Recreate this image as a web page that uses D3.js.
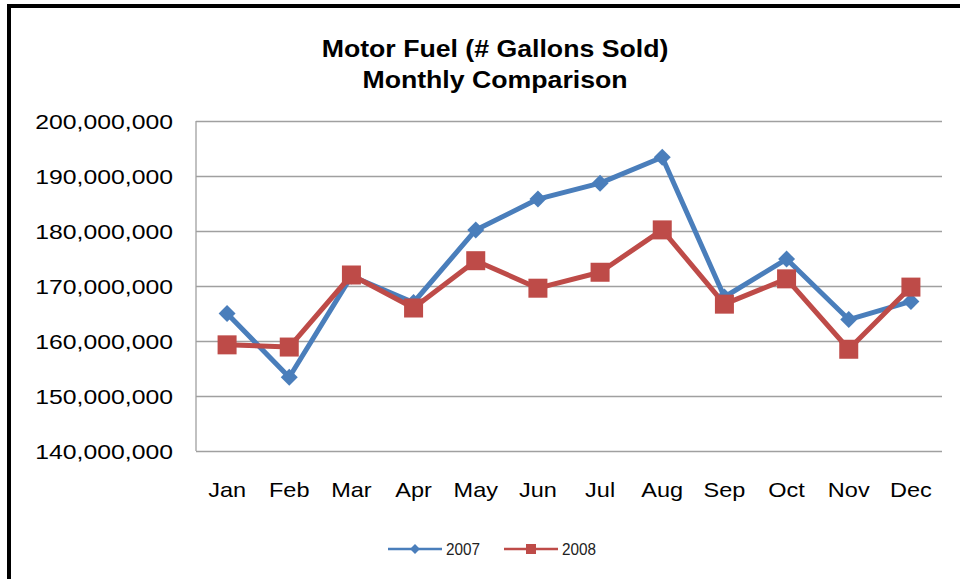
<!DOCTYPE html>
<html>
<head>
<meta charset="utf-8">
<script src="https://cdn.jsdelivr.net/npm/d3@7"></script>
<style>
  body { margin: 0; background: #fff; }
  text { font-family: Arial, "Liberation Sans", sans-serif; }
</style>
</head>
<body>
<svg id="chart" width="960" height="579"></svg>
<script>
// chart data
var months = ["Jan", "Feb", "Mar", "Apr", "May", "Jun", "Jul", "Aug", "Sep", "Oct", "Nov", "Dec"];
var sales2007 = [165.0, 153.4, 171.8, 167.0, 180.2, 185.8, 188.7, 193.4, 168.0, 174.9, 163.9, 167.2];
var sales2008 = [159.3, 158.9, 172.0, 166.0, 174.6, 169.6, 172.5, 180.2, 166.7, 171.3, 158.5, 169.8];
var yTicks = [140, 150, 160, 170, 180, 190, 200]; // millions
var seriesNames = ["2007", "2008"];
var seriesColors = ["#4a7ebb", "#be4b48"];

var svg = d3.select("#chart");
var plot = {left: 196, right: 942, top: 121, bottom: 451};

// black frame
svg.append("path")
  .attr("d", "M9,579 V6 H960")
  .attr("fill", "none")
  .attr("stroke", "#000")
  .attr("stroke-width", 4);

// helper: text that is a bit wider than plain Arial, like the original
function label(g, x, y, str, size, sx, anchor, weight, fill) {
  return g.append("text")
    .attr("transform", "translate(" + x + "," + y + ") scale(" + sx + ",1)")
    .attr("text-anchor", anchor)
    .attr("font-size", size)
    .attr("font-weight", weight || "normal")
    .attr("fill", fill || "#000")
    .text(str);
}

// title
label(svg, 495, 57, "Motor Fuel (# Gallons Sold)", 23, 1.16, "middle", "bold");
label(svg, 495, 88, "Monthly Comparison", 23, 1.16, "middle", "bold");

var x = d3.scaleBand().domain(months).range([plot.left, plot.right]);
var y = d3.scaleLinear().domain([140, 200]).range([plot.bottom, plot.top]);
var cx = function(m) { return x(m) + x.bandwidth() / 2; };

// gridlines
var yAxis = svg.append("g")
  .attr("transform", "translate(" + plot.left + ",0)")
  .call(d3.axisLeft(y).tickValues(yTicks).tickSize(-(plot.right - plot.left)).tickFormat(""));
yAxis.select(".domain").remove();
yAxis.selectAll(".tick line").attr("stroke", "#a0a0a0").attr("stroke-width", 1.3);

svg.append("line")
  .attr("x1", plot.left).attr("x2", plot.left)
  .attr("y1", plot.top).attr("y2", plot.bottom)
  .attr("stroke", "#a0a0a0").attr("stroke-width", 1.3);

// y tick labels
var fmt = d3.format(",");
yTicks.forEach(function(t) {
  label(svg, 173, y(t) + 7.5, fmt(t * 1000000), 21, 1.18, "end");
});

// x tick labels
months.forEach(function(m) {
  label(svg, cx(m), 497, m, 21, 1.12, "middle");
});

// lines
var line = d3.line()
  .x(function(d, i) { return cx(months[i]); })
  .y(function(d) { return y(d); });

[sales2007, sales2008].forEach(function(vals, k) {
  svg.append("path")
    .datum(vals)
    .attr("d", line)
    .attr("fill", "none")
    .attr("stroke", seriesColors[k])
    .attr("stroke-width", 5)
    .attr("stroke-linejoin", "round");
});

// markers: diamonds for 2007, squares for 2008
svg.selectAll(".diamond")
  .data(sales2007)
  .enter().append("rect")
  .attr("class", "diamond")
  .attr("x", -6).attr("y", -6).attr("width", 12).attr("height", 12)
  .attr("transform", function(d, i) { return "translate(" + cx(months[i]) + "," + y(d) + ") rotate(45)"; })
  .attr("fill", seriesColors[0]);

svg.selectAll(".square")
  .data(sales2008)
  .enter().append("rect")
  .attr("class", "square")
  .attr("x", function(d, i) { return cx(months[i]) - 9.5; })
  .attr("y", function(d) { return y(d) - 9.5; })
  .attr("width", 19).attr("height", 19)
  .attr("fill", seriesColors[1]);

// legend
var legend = svg.append("g");
var legendX = [388, 504];
seriesNames.forEach(function(name, k) {
  var lx = legendX[k];
  legend.append("line")
    .attr("x1", lx).attr("x2", lx + 54)
    .attr("y1", 549).attr("y2", 549)
    .attr("stroke", seriesColors[k]).attr("stroke-width", 2.5);
  if (k == 0) {
    legend.append("rect")
      .attr("x", -3.5).attr("y", -3.5).attr("width", 7).attr("height", 7)
      .attr("transform", "translate(" + (lx + 27) + ",549) rotate(45)")
      .attr("fill", seriesColors[k]);
  } else {
    legend.append("rect")
      .attr("x", lx + 22).attr("y", 544).attr("width", 10).attr("height", 10)
      .attr("fill", seriesColors[k]);
  }
  label(legend, lx + 58, 555, name, 17, 0.9, "start", "normal", "#222");
});
</script>
</body>
</html>
